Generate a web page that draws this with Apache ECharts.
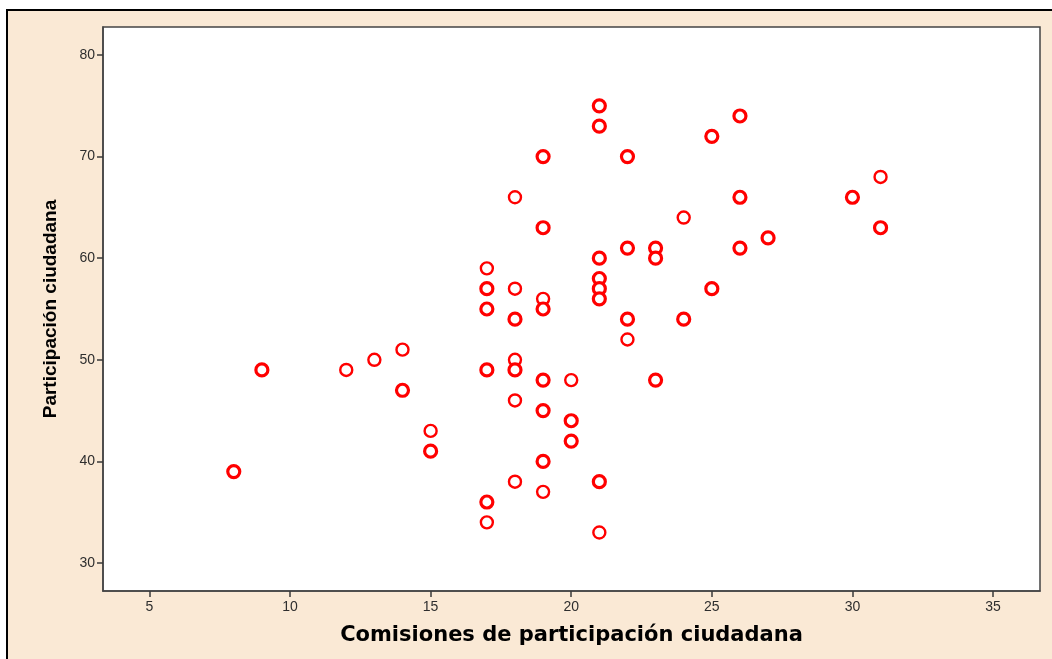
<!DOCTYPE html>
<html lang="es">
<head>
<meta charset="UTF-8">
<title>Participación ciudadana</title>
<style>
  html, body { margin: 0; padding: 0; background: #fff; }
  #chart { width: 1052px; height: 659px; }
</style>
</head>
<body>
<div id="chart"></div>
<script src="https://cdn.jsdelivr.net/npm/echarts@6/dist/echarts.min.js"></script>
<script>
// puntos simples (anillo fino) y puntos repetidos (anillo grueso)
var singlePoints = [
  [12, 49], [13, 50], [14, 51], [15, 43], [17, 59], [17, 34], [18, 66], [18, 57],
  [18, 50], [18, 46], [18, 38], [19, 56], [19, 37], [20, 48], [21, 33], [22, 52],
  [24, 64], [31, 68]
];
var repeatedPoints = [
  [8, 39], [9, 49], [14, 47], [15, 41], [17, 57], [17, 55], [17, 49], [17, 36],
  [18, 54], [18, 49], [19, 70], [19, 63], [19, 55], [19, 48], [19, 45], [19, 40],
  [20, 44], [20, 42], [21, 75], [21, 73], [21, 60], [21, 58], [21, 57], [21, 56],
  [21, 38], [22, 70], [22, 61], [22, 54], [23, 61], [23, 60], [23, 48], [24, 54],
  [25, 72], [25, 57], [26, 74], [26, 66], [26, 61], [27, 62], [30, 66], [31, 63]
];
var xTicks = [5, 10, 15, 20, 25, 30, 35];
var yTicks = [30, 40, 50, 60, 70, 80];

var chart = echarts.init(document.getElementById('chart'));
var tickColor = '#3a3a3a';

chart.setOption({
  animation: false,
  backgroundColor: '#ffffff',
  graphic: [{
    type: 'rect',
    z: -10,
    silent: true,
    shape: { x: 7, y: 10, width: 1100, height: 700 },
    style: { fill: '#fae9d5', stroke: '#000', lineWidth: 2 }
  }],
  grid: {
    left: 103, top: 27, right: 12, bottom: 68,
    show: true,
    backgroundColor: '#ffffff',
    borderColor: '#444',
    borderWidth: 1.5
  },
  xAxis: {
    type: 'value',
    min: 3.35, max: 36.67,
    name: 'Comisiones de participación ciudadana',
    nameLocation: 'middle',
    nameGap: 34,
    nameTextStyle: { fontFamily: 'DejaVu Sans', fontWeight: 'bold', fontSize: 21, color: '#000' },
    splitLine: { show: false },
    axisLine: { show: true, onZero: false, lineStyle: { color: '#444', width: 1.5 } },
    axisTick: { show: true, length: 6, customValues: xTicks, lineStyle: { color: tickColor, width: 1.5 } },
    axisLabel: { customValues: xTicks, margin: 9, fontFamily: 'Liberation Sans', fontSize: 14, color: '#2e2e2e' }
  },
  yAxis: {
    type: 'value',
    min: 27.24, max: 82.76,
    name: 'Participación ciudadana',
    nameLocation: 'middle',
    nameRotate: 90,
    nameGap: 43,
    nameTextStyle: { fontFamily: 'Liberation Sans', fontWeight: 'bold', fontSize: 19, color: '#000' },
    splitLine: { show: false },
    axisLine: { show: true, onZero: false, lineStyle: { color: '#444', width: 1.5 } },
    axisTick: { show: true, length: 6, customValues: yTicks, lineStyle: { color: tickColor, width: 1.5 } },
    axisLabel: { customValues: yTicks, margin: 8, fontFamily: 'Liberation Sans', fontSize: 14, color: '#2e2e2e' }
  },
  series: [
    {
      type: 'scatter',
      data: singlePoints,
      symbol: 'circle',
      symbolSize: 12,
      itemStyle: { color: '#ffffff', borderColor: '#ff0000', borderWidth: 2.4, opacity: 1 }
    },
    {
      type: 'scatter',
      data: repeatedPoints,
      symbol: 'circle',
      symbolSize: 12,
      itemStyle: { color: '#ffffff', borderColor: '#ff0000', borderWidth: 3.2, opacity: 1 }
    }
  ]
});
</script>
</body>
</html>
